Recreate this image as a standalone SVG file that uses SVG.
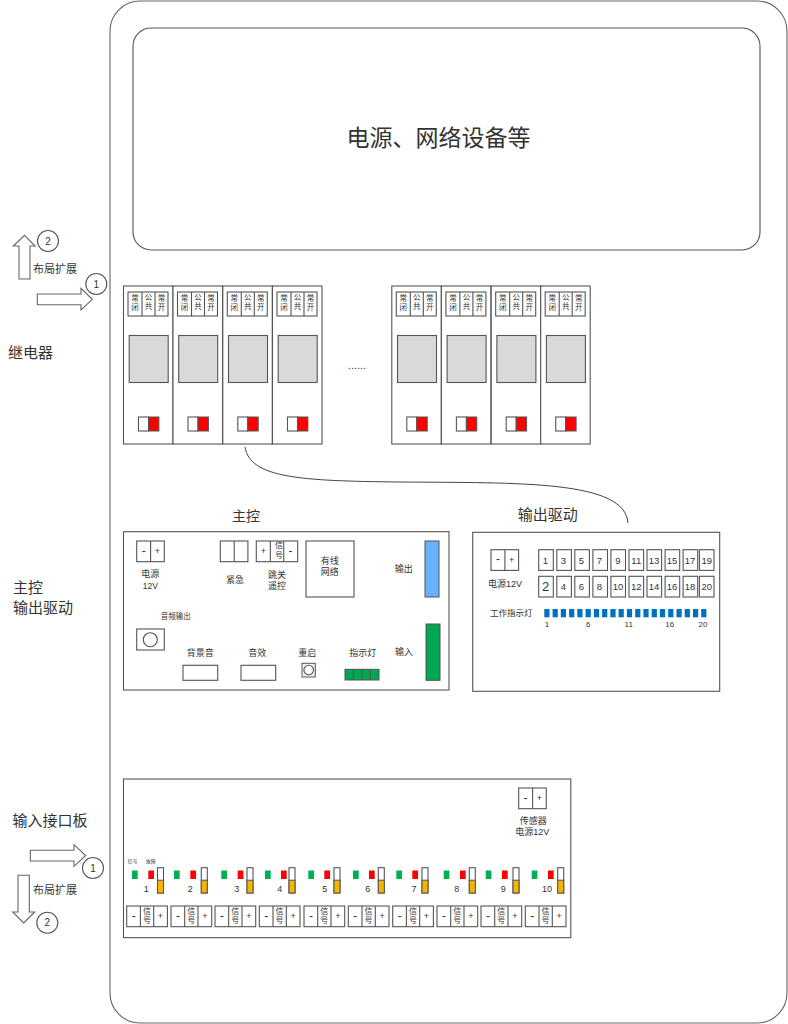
<svg xmlns="http://www.w3.org/2000/svg" width="788" height="1024" viewBox="0 0 788 1024">
<style>
text{font-family:"Liberation Sans","Noto Sans CJK SC",sans-serif;fill:#333;text-anchor:middle;dominant-baseline:central;font-size:9px}
.s{fill:#fff;stroke:#555;stroke-width:1.1}
.f{fill:none;stroke:#555;stroke-width:1.1}
.arrow{fill:#fff;stroke:#666;stroke-width:1.1}
text.t5{font-size:5px}text.t7{font-size:7.5px}text.t8{font-size:7.5px}text.t9{font-size:8px}text.n{font-size:9.5px}text.c{font-size:10px}text.t11{font-size:11px}text.t15{font-size:15px}text.d{font-size:12px}
.gr{fill:#00b050}.rd{fill:#f00}
</style>
<defs>
<g id="relayShape">
<rect class="s" x="0" y="0" width="49.5" height="158"/>
<rect class="s" x="4.5" y="6" width="40" height="24"/>
<path class="f" d="M18.5 6V30M31.5 6V30"/>
<rect x="5.7" y="49.5" width="39" height="47" fill="#d9d9d9" stroke="#555" stroke-width="1.1"/>
<rect class="s" x="15" y="131" width="10" height="14"/>
<rect x="25" y="131" width="10.4" height="14" fill="#f00" stroke="#555"/>
</g>
<g id="t2"><rect class="s" x="0" y="0" width="27.6" height="20.7"/><path class="f" d="M13.9 0V20.7"/></g>
<g id="t3"><rect class="s" x="0" y="0" width="40.7" height="20.7"/><path class="f" d="M13.7 0V20.7M27 0V20.7"/></g>
<g id="box"><rect class="s" x="0" y="0" width="14.6" height="20.7"/></g>
<g id="tube"><rect class="s" x="0" y="0" width="6" height="25.3"/><rect x="0" y="12.5" width="6" height="12.8" fill="#f5b400" stroke="#555"/></g>
<rect id="led" x="0" y="0" width="5.2" height="8.3" fill="#0070c0"/>
</defs>

<g id="cabinet"><rect x="110" y="1" width="677" height="1022" rx="30" fill="#fff" stroke="#666" stroke-width="1.1"/></g>
<g id="power-network"><rect class="f" x="133" y="28" width="627" height="222" rx="18"/><text x="438.5" y="137.5" style="font-size:23px">电源、网络设备等</text></g>

<g id="expand-top">
<path class="arrow" d="M19 279V246H13.3L24.5 235.3L35 246H30V279Z"/>
<circle class="s" cx="48" cy="241" r="10.5"/><text class="c" x="48" y="241">2</text>
<text class="t11" x="55" y="269">布局扩展</text>
<path class="arrow" d="M37.3 294H81V288.3L92.3 299.3L81 310V304.7H37.3Z"/>
<circle class="s" cx="96.3" cy="284" r="10.5"/><text class="c" x="96.3" y="284">1</text>
</g>
<text class="t15" x="30.5" y="352">继电器</text>
<text class="t15" x="28" y="587">主控</text>
<text class="t15" x="43" y="607">输出驱动</text>
<text class="t15" x="50" y="820.5">输入接口板</text>
<g id="expand-bottom">
<path class="arrow" d="M30.3 850.3H74V844.7L85.7 855.5L74 866.3V861H30.3Z"/>
<circle class="s" cx="93" cy="868" r="10.5"/><text class="c" x="93" y="868">1</text>
<path class="arrow" d="M18 875.3H29.3V912H34.7L23.7 923L12.7 912H18Z"/>
<circle class="s" cx="47.3" cy="922.7" r="10.5"/><text class="c" x="47.3" y="922.7">2</text>
<text class="t11" x="55" y="890">布局扩展</text>
</g>

<g id="relay-1" transform="translate(123.5,286)"><use href="#relayShape"/><text class="t8" x="11.5" y="12.3">常</text><text class="t8" x="11.5" y="21.3">闭</text><text class="t8" x="25" y="11.5">公</text><text class="t8" x="25" y="20">共</text><text class="t8" x="38" y="12.3">常</text><text class="t8" x="38" y="21.3">开</text></g>
<g id="relay-2" transform="translate(173,286)"><use href="#relayShape"/><text class="t8" x="11.5" y="12.3">常</text><text class="t8" x="11.5" y="21.3">闭</text><text class="t8" x="25" y="11.5">公</text><text class="t8" x="25" y="20">共</text><text class="t8" x="38" y="12.3">常</text><text class="t8" x="38" y="21.3">开</text></g>
<g id="relay-3" transform="translate(222.8,286)"><use href="#relayShape"/><text class="t8" x="11.5" y="12.3">常</text><text class="t8" x="11.5" y="21.3">闭</text><text class="t8" x="25" y="11.5">公</text><text class="t8" x="25" y="20">共</text><text class="t8" x="38" y="12.3">常</text><text class="t8" x="38" y="21.3">开</text></g>
<g id="relay-4" transform="translate(272.5,286)"><use href="#relayShape"/><text class="t8" x="11.5" y="12.3">常</text><text class="t8" x="11.5" y="21.3">闭</text><text class="t8" x="25" y="11.5">公</text><text class="t8" x="25" y="20">共</text><text class="t8" x="38" y="12.3">常</text><text class="t8" x="38" y="21.3">开</text></g>
<text x="357" y="365" class="t11">......</text>
<g id="relay-5" transform="translate(391.8,286)"><use href="#relayShape"/><text class="t8" x="11.5" y="12.3">常</text><text class="t8" x="11.5" y="21.3">闭</text><text class="t8" x="25" y="11.5">公</text><text class="t8" x="25" y="20">共</text><text class="t8" x="38" y="12.3">常</text><text class="t8" x="38" y="21.3">开</text></g>
<g id="relay-6" transform="translate(441.4,286)"><use href="#relayShape"/><text class="t8" x="11.5" y="12.3">常</text><text class="t8" x="11.5" y="21.3">闭</text><text class="t8" x="25" y="11.5">公</text><text class="t8" x="25" y="20">共</text><text class="t8" x="38" y="12.3">常</text><text class="t8" x="38" y="21.3">开</text></g>
<g id="relay-7" transform="translate(491.2,286)"><use href="#relayShape"/><text class="t8" x="11.5" y="12.3">常</text><text class="t8" x="11.5" y="21.3">闭</text><text class="t8" x="25" y="11.5">公</text><text class="t8" x="25" y="20">共</text><text class="t8" x="38" y="12.3">常</text><text class="t8" x="38" y="21.3">开</text></g>
<g id="relay-8" transform="translate(540.7,286)"><use href="#relayShape"/><text class="t8" x="11.5" y="12.3">常</text><text class="t8" x="11.5" y="21.3">闭</text><text class="t8" x="25" y="11.5">公</text><text class="t8" x="25" y="20">共</text><text class="t8" x="38" y="12.3">常</text><text class="t8" x="38" y="21.3">开</text></g>

<g id="connectors"><path d="M245 447C250 478 300 481 400 482C520 483 625 480 628 523" fill="none" stroke="#444"/></g>

<g id="main-control">
<text x="246" y="516" style="font-size:14px">主控</text>
<rect class="s" x="123.5" y="531.7" width="325.5" height="158.3"/>
<use href="#t2" x="136.7" y="541"/><text class="d" x="143.8" y="550.5">-</text><text x="157.5" y="551">+</text>
<text x="150.3" y="574.3">电源</text><text x="150.3" y="586.3" style="font-size:8.5px">12V</text>
<use href="#t2" x="220.3" y="541"/><text x="235" y="580.3">紧急</text>
<rect class="s" x="256.3" y="541" width="41.4" height="20.7"/><path class="f" d="M270.3 541V561.7M283.7 541V561.7"/>
<text x="263.5" y="551">+</text><text class="t9" x="279" y="545.5">信</text><text class="t9" x="279" y="555">号</text><text class="d" x="290.5" y="550.5">-</text>
<text x="277" y="574.7">跳关</text><text x="277" y="586">遥控</text>
<rect class="s" x="306" y="541" width="48" height="56"/><text x="329.7" y="561">有线</text><text x="329.7" y="572.3">网络</text>
<text x="403.7" y="568.7">输出</text><rect x="425" y="541" width="14" height="56" fill="#66b2ff" stroke="#555"/>
<text x="404" y="651.7">输入</text><rect x="426" y="624" width="14" height="56.3" fill="#00a651" stroke="#555"/>
<text class="t7" x="175.7" y="616">音频输出</text>
<rect class="s" x="136.7" y="629" width="27.6" height="21"/><circle class="s" cx="150.3" cy="639.7" r="7"/>
<text x="200.3" y="653.3">背景音</text><rect class="s" x="183" y="665.3" width="34.7" height="15"/>
<text x="257.3" y="653.3">音效</text><rect class="s" x="241" y="665.3" width="34.7" height="15"/>
<text x="307.3" y="653.3">重启</text><rect x="302" y="663.3" width="13.3" height="13.7" fill="#f2f2f2" stroke="#555"/><circle class="s" cx="308.7" cy="670" r="4.8"/>
<text x="362.7" y="653">指示灯</text><rect x="345" y="669.3" width="34" height="10.7" fill="#00a651" stroke="#555"/><path class="f" d="M353.3 669.3V680M362 669.3V680M370.3 669.3V680"/>
</g>

<g id="output-drive">
<text x="547.7" y="514" style="font-size:15px">输出驱动</text>
<rect class="s" x="472.7" y="532.3" width="247" height="159"/>
<use href="#t2" x="491" y="549.7"/><text class="d" x="498" y="559.2">-</text><text x="511.7" y="559.7">+</text>
<text x="505" y="584">电源12V</text>
<use href="#box" x="538.7" y="549.7"/><use href="#box" x="556.8" y="549.7"/><use href="#box" x="574.8" y="549.7"/><use href="#box" x="592.9" y="549.7"/><use href="#box" x="610.9" y="549.7"/><use href="#box" x="629" y="549.7"/><use href="#box" x="647" y="549.7"/><use href="#box" x="665.1" y="549.7"/><use href="#box" x="683.1" y="549.7"/><use href="#box" x="699.4" y="549.7"/>
<use href="#box" x="538.7" y="576.3"/><use href="#box" x="556.8" y="576.3"/><use href="#box" x="574.8" y="576.3"/><use href="#box" x="592.9" y="576.3"/><use href="#box" x="610.9" y="576.3"/><use href="#box" x="629" y="576.3"/><use href="#box" x="647" y="576.3"/><use href="#box" x="665.1" y="576.3"/><use href="#box" x="683.1" y="576.3"/><use href="#box" x="699.4" y="576.3"/>
<text class="n" x="545.5" y="560">1</text><text class="n" x="563.5" y="560">3</text><text class="n" x="581.5" y="560">5</text><text class="n" x="599.5" y="560">7</text><text class="n" x="617.8" y="560">9</text><text class="n" x="636.3" y="560">11</text><text class="n" x="654" y="560">13</text><text class="n" x="672" y="560">15</text><text class="n" x="690" y="560">17</text><text class="n" x="706.7" y="560">19</text>
<text x="545.7" y="586.6" style="font-size:13px">2</text><text class="n" x="563.5" y="586.6">4</text><text class="n" x="581.5" y="586.6">6</text><text class="n" x="599.5" y="586.6">8</text><text class="n" x="618" y="586.6">10</text><text class="n" x="636.3" y="586.6">12</text><text class="n" x="654" y="586.6">14</text><text class="n" x="672" y="586.6">16</text><text class="n" x="690" y="586.6">18</text><text class="n" x="706.7" y="586.6">20</text>
<text x="511.3" y="613" style="font-size:8.5px">工作指示灯</text>
<use href="#led" x="544.3" y="609"/><use href="#led" x="552.6" y="609"/><use href="#led" x="560.8" y="609"/><use href="#led" x="569.1" y="609"/><use href="#led" x="577.3" y="609"/><use href="#led" x="585.6" y="609"/><use href="#led" x="593.9" y="609"/><use href="#led" x="602.1" y="609"/><use href="#led" x="610.4" y="609"/><use href="#led" x="618.6" y="609"/><use href="#led" x="626.9" y="609"/><use href="#led" x="635.2" y="609"/><use href="#led" x="643.4" y="609"/><use href="#led" x="651.7" y="609"/><use href="#led" x="659.9" y="609"/><use href="#led" x="668.2" y="609"/><use href="#led" x="676.5" y="609"/><use href="#led" x="684.7" y="609"/><use href="#led" x="693" y="609"/><use href="#led" x="701.2" y="609"/>
<text class="t9" x="547" y="624">1</text><text class="t9" x="588.3" y="624">6</text><text class="t9" x="628.7" y="624">11</text><text class="t9" x="669.7" y="624">16</text><text class="t9" x="703" y="624">20</text>
</g>

<g id="input-board">
<rect class="s" x="123.5" y="779" width="447.3" height="158.7"/>
<use href="#t2" x="518.7" y="788"/><text class="d" x="525.5" y="797.5">-</text><text x="539.3" y="798">+</text>
<text x="533.3" y="820.7">传感器</text><text x="532.3" y="832.3">电源12V</text>
<text class="t5" x="132.5" y="861">信号</text><text class="t5" x="150.7" y="861">故障</text>

<g id="input-1"><rect class="gr" x="132" y="870.5" width="5.7" height="8.5"/><rect class="rd" x="148.3" y="870.5" width="5.7" height="8.5"/><use href="#tube" x="157.5" y="867.7"/><text x="146.3" y="888.7">1</text><use href="#t3" x="126.7" y="906"/><text class="d" x="133.7" y="915.8">-</text><text class="t9" x="147" y="911">信</text><text class="t9" x="147" y="920.5">号</text><text x="160.5" y="916.3">+</text></g>
<g id="input-2"><rect class="gr" x="174" y="870.5" width="5.7" height="8.5"/><rect class="rd" x="190.3" y="870.5" width="5.7" height="8.5"/><use href="#tube" x="201.3" y="867.7"/><text x="190.3" y="888.7">2</text><use href="#t3" x="171" y="906"/><text class="d" x="178" y="915.8">-</text><text class="t9" x="191.3" y="911">信</text><text class="t9" x="191.3" y="920.5">号</text><text x="204.8" y="916.3">+</text></g>
<g id="input-3"><rect class="gr" x="221.3" y="870.5" width="5.7" height="8.5"/><rect class="rd" x="237.7" y="870.5" width="5.7" height="8.5"/><use href="#tube" x="247" y="867.7"/><text x="236.7" y="888.7">3</text><use href="#t3" x="215" y="906"/><text class="d" x="222" y="915.8">-</text><text class="t9" x="235.3" y="911">信</text><text class="t9" x="235.3" y="920.5">号</text><text x="248.8" y="916.3">+</text></g>
<g id="input-4"><rect class="gr" x="265" y="870.5" width="5.7" height="8.5"/><rect class="rd" x="281" y="870.5" width="5.7" height="8.5"/><use href="#tube" x="289" y="867.7"/><text x="279.7" y="888.7">4</text><use href="#t3" x="259.3" y="906"/><text class="d" x="266.3" y="915.8">-</text><text class="t9" x="279.6" y="911">信</text><text class="t9" x="279.6" y="920.5">号</text><text x="293.1" y="916.3">+</text></g>
<g id="input-5"><rect class="gr" x="308.3" y="870.5" width="5.7" height="8.5"/><rect class="rd" x="324.3" y="870.5" width="5.7" height="8.5"/><use href="#tube" x="334" y="867.7"/><text x="324.7" y="888.7">5</text><use href="#t3" x="304" y="906"/><text class="d" x="311" y="915.8">-</text><text class="t9" x="324.3" y="911">信</text><text class="t9" x="324.3" y="920.5">号</text><text x="337.8" y="916.3">+</text></g>
<g id="input-6"><rect class="gr" x="353" y="870.5" width="5.7" height="8.5"/><rect class="rd" x="369" y="870.5" width="5.7" height="8.5"/><use href="#tube" x="378.3" y="867.7"/><text x="367.7" y="888.7">6</text><use href="#t3" x="348.3" y="906"/><text class="d" x="355.3" y="915.8">-</text><text class="t9" x="368.6" y="911">信</text><text class="t9" x="368.6" y="920.5">号</text><text x="382.1" y="916.3">+</text></g>
<g id="input-7"><rect class="gr" x="396.3" y="870.5" width="5.7" height="8.5"/><rect class="rd" x="412.3" y="870.5" width="5.7" height="8.5"/><use href="#tube" x="422" y="867.7"/><text x="414" y="888.7">7</text><use href="#t3" x="392.7" y="906"/><text class="d" x="399.7" y="915.8">-</text><text class="t9" x="413" y="911">信</text><text class="t9" x="413" y="920.5">号</text><text x="426.5" y="916.3">+</text></g>
<g id="input-8"><rect class="gr" x="443.7" y="870.5" width="5.7" height="8.5"/><rect class="rd" x="460" y="870.5" width="5.7" height="8.5"/><use href="#tube" x="469.3" y="867.7"/><text x="456.7" y="888.7">8</text><use href="#t3" x="437" y="906"/><text class="d" x="444" y="915.8">-</text><text class="t9" x="457.3" y="911">信</text><text class="t9" x="457.3" y="920.5">号</text><text x="470.8" y="916.3">+</text></g>
<g id="input-9"><rect class="gr" x="485.7" y="870.5" width="5.7" height="8.5"/><rect class="rd" x="502" y="870.5" width="5.7" height="8.5"/><use href="#tube" x="513" y="867.7"/><text x="503.3" y="888.7">9</text><use href="#t3" x="481" y="906"/><text class="d" x="488" y="915.8">-</text><text class="t9" x="501.3" y="911">信</text><text class="t9" x="501.3" y="920.5">号</text><text x="514.8" y="916.3">+</text></g>
<g id="input-10"><rect class="gr" x="531.7" y="870.5" width="5.7" height="8.5"/><rect class="rd" x="548" y="870.5" width="5.7" height="8.5"/><use href="#tube" x="557.7" y="867.7"/><text x="547" y="888.7">10</text><use href="#t3" x="525.3" y="906"/><text class="d" x="532.3" y="915.8">-</text><text class="t9" x="545.6" y="911">信</text><text class="t9" x="545.6" y="920.5">号</text><text x="559.1" y="916.3">+</text></g>
</g>
</svg>
